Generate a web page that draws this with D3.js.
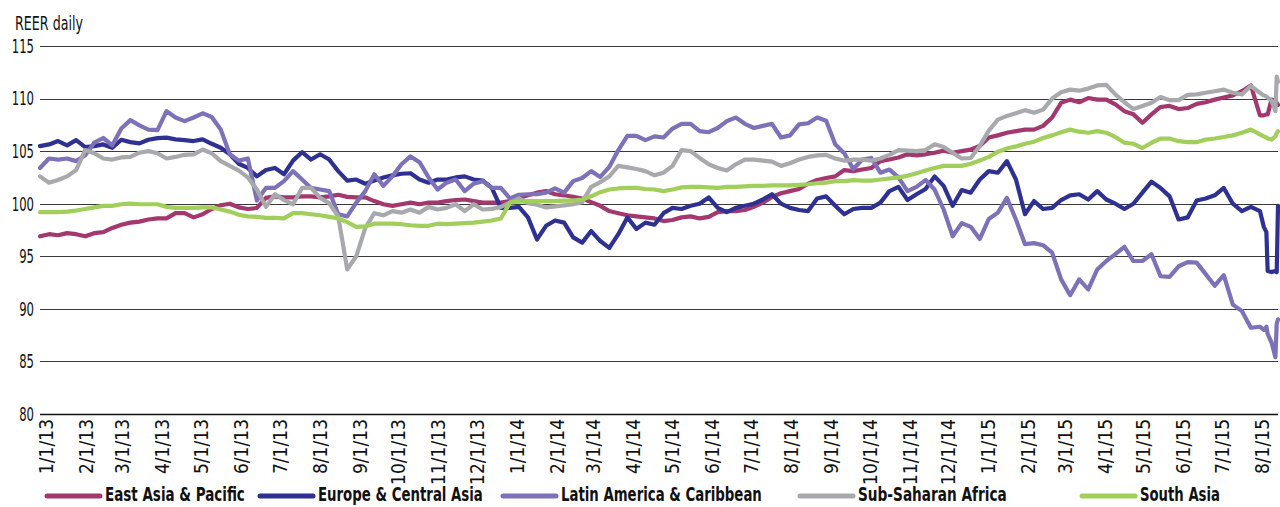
<!DOCTYPE html>
<html>
<head>
<meta charset="utf-8">
<script src="https://cdn.jsdelivr.net/npm/d3@7/dist/d3.min.js"></script>
<style>
    body { margin: 0; background: #fff; }
    svg text { font-family: "Liberation Sans Narrow", "DejaVu Sans Condensed", sans-serif; fill: #111; }
</style>
</head>
<body>
<div id="chart"></div>
<script>
// ---- data (weekly readings from 1/1/13, plus a few daily points at the very end) ----
const startDate = new Date(Date.UTC(2013, 0, 1));
const weekCount = 136;
const tailDays = [948, 950, 951, 954, 957, 958, 959];

const seriesNames = ["East Asia & Pacific", "Europe & Central Asia", "Latin America & Caribbean", "Sub-Saharan Africa", "South Asia"];

const eastAsia = [
    96.9, 97.1, 97.0, 97.2, 97.1, 96.9, 97.2, 97.3, 97.7, 98.0,
    98.2, 98.3, 98.5, 98.6, 98.6, 99.1, 99.1, 98.7, 99.0, 99.5,
    99.85, 100.0, 99.65, 99.5, 99.6, 100.55, 100.7, 100.6, 100.6, 100.7,
    100.7, 100.6, 100.7, 100.85, 100.65, 100.6, 100.6, 100.25, 99.95, 99.8,
    99.95, 100.1, 99.95, 100.1, 100.1, 100.25, 100.35, 100.4, 100.25, 100.1,
    100.1, 100.1, 100.25, 100.55, 100.8, 101.05, 101.2, 100.9, 100.8, 100.65,
    100.5, 100.15, 99.8, 99.3, 99.1, 98.9, 98.8, 98.7, 98.6, 98.35,
    98.45, 98.7, 98.8, 98.6, 98.75, 99.2, 99.3, 99.3, 99.4, 99.7,
    100.1, 100.65, 101.0, 101.2, 101.4, 101.9, 102.25, 102.45, 102.6, 103.2,
    103.1, 103.25, 103.4, 104.05, 104.2, 104.4, 104.7, 104.6, 104.7, 104.85,
    105.05, 104.85, 105.0, 105.15, 105.5, 106.3, 106.5, 106.75, 106.9, 107.05,
    107.05, 107.4, 108.2, 109.6, 109.9, 109.65, 110.05, 109.9, 109.9, 109.45,
    108.8, 108.5, 107.7, 108.5, 109.2, 109.3, 109.0, 109.1, 109.5, 109.65,
    109.9, 110.1, 110.3, 110.7, 111.25, 108.4,
    108.4, 108.5, 108.5, 109.9, 109.8, 109.6, 109.4
];

const europe = [
    105.48, 105.64, 105.96, 105.55, 106.05, 105.39, 105.48, 105.64, 105.32, 106.08,
    105.86, 105.74, 106.08, 106.24, 106.28, 106.12, 106.05, 105.96, 106.12, 105.7,
    105.32, 104.7, 103.8, 103.4, 102.6, 103.2, 103.4, 102.8, 104.1, 104.9,
    104.2, 104.7, 104.2, 103.1, 102.2, 102.3, 101.9, 102.2, 102.5, 102.7,
    102.85, 102.9, 102.3, 102.0, 102.3, 102.3, 102.5, 102.6, 102.3, 102.2,
    101.5, 99.6, 99.6, 99.7, 98.7, 96.6, 97.9, 98.4, 98.2, 96.8,
    96.3, 97.4, 96.45, 95.8, 97.1, 98.7, 97.6, 98.2, 98.0, 99.1,
    99.6, 99.5, 99.8, 100.0, 100.6, 99.6, 99.2, 99.6, 99.8, 100.0,
    100.4, 100.9, 100.0, 99.6, 99.4, 99.3, 100.5, 100.7, 99.8, 99.0,
    99.5, 99.6, 99.6, 100.1, 101.2, 101.6, 100.35, 100.9, 101.4, 102.6,
    101.7, 99.8, 101.3, 101.05, 102.3, 103.1, 102.95, 104.05, 102.3, 99.0,
    100.25, 99.5, 99.6, 100.35, 100.8, 100.9, 100.4, 101.2, 100.4, 100.0,
    99.5, 100.0, 101.05, 102.1, 101.5, 100.7, 98.5, 98.7, 100.3, 100.5,
    100.8, 101.5, 100.0, 99.3, 99.7, 99.3,
    97.8, 97.3, 93.6, 93.5, 93.6, 93.5, 99.8
];

const latinAmerica = [
    103.4, 104.3, 104.2, 104.3, 104.05, 104.6, 105.8, 106.25, 105.55, 107.15,
    107.95, 107.45, 107.05, 107.0, 108.8, 108.2, 107.85, 108.2, 108.6, 108.25,
    107.05, 104.7, 104.1, 104.3, 100.3, 101.5, 101.5, 102.15, 103.1, 102.3,
    101.5, 101.35, 101.2, 99.0, 98.8, 100.1, 101.2, 102.8, 101.7, 102.6,
    103.75, 104.5, 103.95, 102.5, 101.35, 102.0, 102.3, 101.2, 101.9, 102.15,
    101.5, 101.5, 100.5, 100.85, 100.9, 100.9, 101.05, 101.45, 101.05, 102.15,
    102.45, 103.1, 102.55, 103.5, 105.1, 106.45, 106.45, 106.05, 106.4, 106.3,
    107.15, 107.6, 107.6, 106.9, 106.8, 107.2, 107.85, 108.2, 107.6, 107.2,
    107.4, 107.6, 106.3, 106.5, 107.55, 107.65, 108.2, 107.9, 105.65, 104.8,
    103.3, 104.2, 104.35, 102.95, 103.25, 102.5, 101.2, 101.6, 102.25, 101.35,
    99.45, 96.9, 98.15, 97.8, 96.65, 98.55, 99.15, 100.55, 98.5, 96.15,
    96.25, 96.05, 95.35, 92.8, 91.3, 92.8, 91.85, 93.75, 94.55, 95.2,
    95.9, 94.55, 94.55, 95.2, 93.1, 93.05, 94.05, 94.45, 94.4, 93.3,
    92.2, 93.2, 90.4, 89.8, 88.2, 88.3,
    88.0, 88.3, 87.6, 86.8, 85.4, 88.6, 89.0
];

const subSaharan = [
    102.6, 102.0, 102.25, 102.6, 103.2, 105.1, 104.8, 104.3, 104.2, 104.4,
    104.45, 104.85, 105.0, 104.8, 104.3, 104.45, 104.65, 104.7, 105.15, 104.8,
    104.05, 103.6, 103.15, 102.5, 101.35, 99.7, 100.9, 100.35, 99.95, 101.5,
    101.5, 100.55, 100.05, 98.8, 93.75, 95.0, 97.7, 99.1, 98.9, 99.3,
    99.15, 99.45, 99.15, 99.7, 99.45, 99.6, 99.95, 99.3, 99.95, 99.45,
    99.5, 99.7, 100.1, 100.5, 100.05, 99.9, 99.65, 99.75, 99.85, 99.95,
    100.15, 101.6, 102.05, 102.6, 103.6, 103.45, 103.3, 103.1, 102.7, 102.95,
    103.6, 105.1, 105.0, 104.35, 103.75, 103.4, 103.15, 103.75, 104.2, 104.2,
    104.1, 104.0, 103.6, 103.85, 104.2, 104.45, 104.6, 104.65, 104.3, 104.1,
    104.2, 104.2, 104.1, 104.3, 104.65, 105.1, 105.05, 105.0, 105.1, 105.65,
    105.4, 104.85, 104.3, 104.35, 105.5, 106.95, 108.0, 108.35, 108.6, 108.9,
    108.65, 108.95, 110.0, 110.6, 110.85, 110.75, 110.95, 111.25, 111.3, 110.4,
    109.65, 109.0, 109.3, 109.6, 110.15, 109.85, 109.85, 110.35, 110.4, 110.55,
    110.7, 110.85, 110.55, 110.4, 111.2, 110.55,
    110.3, 110.2, 110.1, 109.8, 108.8, 112.1, 111.6
];

const southAsia = [
    99.2, 99.2, 99.2, 99.25, 99.35, 99.5, 99.65, 99.8, 99.8, 99.95,
    100.0, 99.95, 99.95, 99.95, 99.7, 99.6, 99.6, 99.6, 99.65, 99.65,
    99.45, 99.25, 98.95, 98.8, 98.75, 98.65, 98.65, 98.6, 99.1, 99.1,
    99.0, 98.9, 98.75, 98.6, 98.25, 97.8, 97.85, 98.1, 98.1, 98.1,
    98.05, 97.95, 97.9, 97.9, 98.1, 98.05, 98.1, 98.15, 98.2, 98.3,
    98.4, 98.6, 100.1, 100.2, 100.25, 100.25, 100.25, 100.25, 100.3, 100.3,
    100.4, 100.7, 101.1, 101.35, 101.45, 101.5, 101.5, 101.4, 101.35, 101.2,
    101.35, 101.55, 101.6, 101.6, 101.55, 101.5, 101.6, 101.6, 101.65, 101.7,
    101.7, 101.75, 101.75, 101.75, 101.8, 101.85, 101.95, 102.0, 102.15, 102.15,
    102.25, 102.2, 102.2, 102.3, 102.4, 102.5, 102.65, 102.9, 103.15, 103.4,
    103.6, 103.6, 103.6, 103.8, 104.1, 104.45, 104.95, 105.25, 105.45, 105.7,
    105.9, 106.25, 106.5, 106.8, 107.05, 106.85, 106.75, 106.9, 106.75, 106.35,
    105.8, 105.7, 105.3, 105.8, 106.2, 106.2, 105.95, 105.85, 105.85, 106.1,
    106.2, 106.35, 106.5, 106.75, 107.05, 106.6,
    106.4, 106.3, 106.2, 106.1, 106.4, 106.7, 106.9
];

const yTicks = [80, 85, 90, 95, 100, 105, 110, 115];
const seriesColors = ["#a3386f", "#2e3192", "#7d71b8", "#a7a9ac", "#a2cf5b"];

// ---- layout ----
const width = 1280, height = 507;
const margin = {top: 46, right: 2, bottom: 93, left: 40};

const dayOffsets = d3.range(weekCount).map(i => i * 7).concat(tailDays);
const dates = dayOffsets.map(d => d3.utcDay.offset(startDate, d));
const series = [eastAsia, europe, latinAmerica, subSaharan, southAsia].map((vals, k) => ({
    name: seriesNames[k],
    color: seriesColors[k],
    values: vals.map((v, i) => ({date: dates[i], value: v}))
}));

const svg = d3.select("#chart").append("svg")
    .attr("width", width)
    .attr("height", height);

const x = d3.scaleUtc()
    .domain([startDate, dates[dates.length - 1]])
    .range([margin.left, width - margin.right]);

const y = d3.scaleLinear()
    .domain([80, 115])
    .range([height - margin.bottom, margin.top]);

// squeeze a text horizontally so it takes a given width (the original font is condensed)
function squeeze(sel, targetW, anchorX) {
    sel.each(function(d, i) {
        const w = this.getComputedTextLength();
        const tw = typeof targetW === "function" ? targetW(d, i) : targetW;
        const ax = typeof anchorX === "function" ? anchorX(d, i) : anchorX;
        const s = Math.min(1, tw / w);
        d3.select(this).attr("transform", `translate(${ax},0) scale(${s},1) translate(${-ax},0)`);
    });
}

// title
svg.append("text")
    .attr("x", 15)
    .attr("y", 30)
    .style("font-size", "19px")
    .text("REER daily")
    .call(squeeze, 68, 15);

// gridlines + y labels
const yAxis = svg.append("g").attr("class", "y-axis");
yAxis.selectAll("line")
    .data(yTicks)
    .join("line")
    .attr("x1", margin.left)
    .attr("x2", width - margin.right)
    .attr("y1", d => Math.round(y(d)) + 0.5)
    .attr("y2", d => Math.round(y(d)) + 0.5)
    .attr("stroke", d => d === 80 ? "#111" : "#3a3a3a")
    .attr("stroke-width", d => d === 80 ? 1.5 : 1.2);

yAxis.selectAll("text")
    .data(yTicks)
    .join("text")
    .attr("x", 34)
    .attr("y", d => y(d))
    .attr("dy", "0.36em")
    .attr("text-anchor", "end")
    .style("font-size", "19px")
    .text(d => d)
    .call(squeeze, d => String(d).length * 7.4, 34);

// x labels, one per month, rotated
const monthTicks = d3.utcMonth.range(startDate, d3.utcDay.offset(dates[dates.length - 1], 1));
const fmt = d3.utcFormat("%-m/%-d/%y");
svg.append("g").attr("class", "x-axis")
    .selectAll("text")
    .data(monthTicks)
    .join("text")
    .attr("transform", d => `translate(${x(d) + 13},${height - margin.bottom + 5}) rotate(-90)`)
    .attr("text-anchor", "end")
    .style("font-size", "19px")
    .text(d => fmt(d));

// lines
const line = d3.line()
    .x(d => x(d.date))
    .y(d => y(d.value));

svg.append("g").attr("class", "lines")
    .selectAll("path")
    .data(series)
    .join("path")
    .attr("d", d => line(d.values))
    .attr("fill", "none")
    .attr("stroke", d => d.color)
    .attr("stroke-width", 4.2)
    .attr("stroke-linejoin", "round")
    .attr("stroke-linecap", "round");

// legend
const legendX = [47, 260, 503, 800, 1082];
const legendTextW = [140, 165, 201, 149, 80];
const legend = svg.append("g").attr("class", "legend")
    .selectAll("g")
    .data(series)
    .join("g")
    .attr("transform", (d, i) => `translate(${legendX[i]},496)`);

legend.append("line")
    .attr("x1", 0).attr("x2", 53)
    .attr("stroke", d => d.color)
    .attr("stroke-width", 5)
    .attr("stroke-linecap", "round");

legend.append("text")
    .attr("x", 58)
    .attr("y", 5)
    .style("font-size", "20px")
    .style("font-weight", "bold")
    .text(d => d.name)
    .call(squeeze, (d, i) => legendTextW[i], 58);
</script>
</body>
</html>
